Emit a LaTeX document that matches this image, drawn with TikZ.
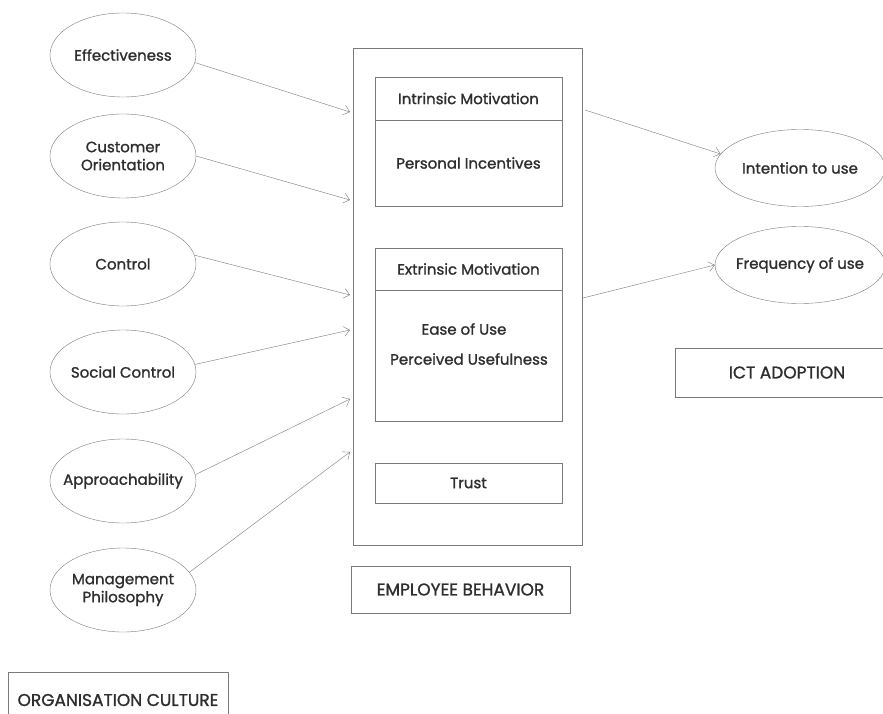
\documentclass[tikz,border=0pt]{standalone}
\usepackage{fontspec}
\setmainfont{Poppins}[FakeBold=1.2]
\usepackage{tikz}
\usetikzlibrary{positioning}
\usetikzlibrary{shapes.geometric}
\usetikzlibrary{arrows.meta}

\definecolor{linegray}{HTML}{7A7A7A}
\definecolor{textgray}{HTML}{2E2E2E}

\begin{document}
\begin{tikzpicture}[x=1pt, y=-1pt,
  factor/.style={draw=linegray, ellipse, minimum width=146pt, minimum height=84pt, inner xsep=-20pt, inner ysep=0pt, text=textgray, align=center, font=\fontsize{15}{18}\selectfont},
  outcome/.style={draw=linegray, ellipse, minimum width=170pt, minimum height=77pt, inner xsep=-20pt, inner ysep=0pt, text=textgray, font=\fontsize{15}{18}\selectfont},
  box/.style={draw=linegray, rectangle, inner sep=0pt, text=textgray, font=\fontsize{15}{18}\selectfont},
  capbox/.style={box, font=\fontsize{17}{20}\selectfont},
  label/.style={text=textgray, inner sep=0pt, font=\fontsize{15}{18}\selectfont},
  arr/.style={draw=linegray, -{Straight Barb[length=6pt, width=10pt]}}]

% Set the size of the figure
\clip (0,0) rectangle (883,714);
\fill[white] (0,0) rectangle (883,714);

% Organisation culture
\node[factor] (eff) at (123,55) {Effectiveness};
\node[factor] (cust) at (123,156) {Customer\\Orientation};
\node[factor] (ctrl) at (123,264) {Control};
\node[factor] (soc) at (123,372) {Social Control};
\node[factor] (appr) at (123,481) {Approachability};
\node[factor] (mgmt) at (123,590) {Management\\Philosophy};
\node[capbox, minimum width=220pt, minimum height=56pt] (orgcult) at (118,700) {ORGANISATION CULTURE};

% Employee behavior
\node[box, minimum width=229pt, minimum height=497pt] (emp) at (467.5,296.5) {};
\node[box, minimum width=187pt, minimum height=43pt] (intrhead) at (468.5,98.5) {Intrinsic Motivation};
\node[box, minimum width=187pt, minimum height=86pt] (intrbody) at (468.5,163) {Personal Incentives};
\node[box, minimum width=187pt, minimum height=42pt] (extrhead) at (468.5,269) {Extrinsic Motivation};
\node[box, minimum width=187pt, minimum height=131pt] (extrbody) at (468.5,355.5) {};
\node[label] (ease) at (464,329) {Ease of Use};
\node[label] (perc) at (469,359) {Perceived Usefulness};
\node[box, minimum width=187pt, minimum height=40pt] (trust) at (468.5,483) {Trust};
\node[capbox, minimum width=219pt, minimum height=47pt] (empbeh) at (460.5,589.5) {EMPLOYEE BEHAVIOR};

% ICT adoption
\node[outcome] (intent) at (800,168) {Intention to use};
\node[outcome] (freq) at (800,265) {Frequency of use};
\node[capbox, minimum width=224pt, minimum height=49pt] (ict) at (787,372.5) {ICT ADOPTION};

% Arrow ends on the employee box
\coordinate (in1) at (350,112);
\coordinate (in2) at (350,200);
\coordinate (in3) at (350,295);
\coordinate (in4) at (350,330);
\coordinate (in5) at (350,399);
\coordinate (in6) at (350,452);
\coordinate (out1) at (585,110);
\coordinate (out2) at (583,298);

\draw[arr] (eff.-6) -- (in1);
\draw[arr] (cust.east) -- (in2);
\draw[arr] (ctrl.7) -- (in3);
\draw[arr] (soc.6) -- (in4);
\draw[arr] (appr.5) -- (in5);
\draw[arr] (mgmt.15) -- (in6);
\draw[arr] (out1) -- (intent.170);
\draw[arr] (out2) -- (freq.west);
\end{tikzpicture}
\end{document}
